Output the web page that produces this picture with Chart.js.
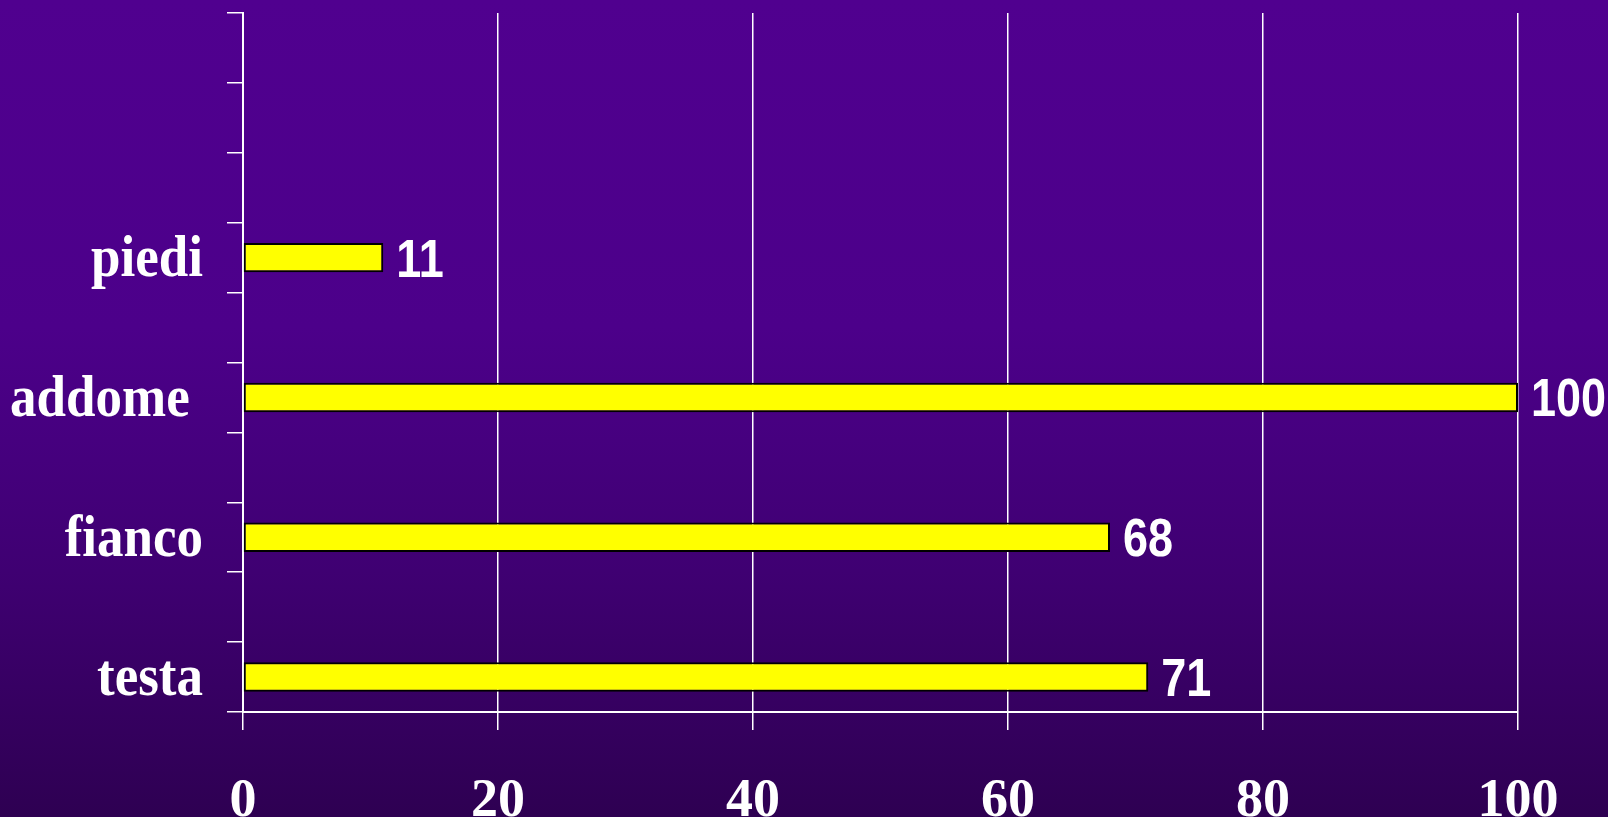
<!DOCTYPE html>
<html>
<head>
<meta charset="utf-8">
<script src="https://cdn.jsdelivr.net/npm/chart.js@4.4.0/dist/chart.umd.min.js"></script>
<style>
  html, body { margin: 0; padding: 0; }
  body {
    width: 1608px; height: 817px; overflow: hidden;
    background: linear-gradient(to bottom, #50008f 0%, #4c008a 40%, #3f0072 70%, #2e0052 100%);
  }
  #wrap { position: relative; width: 1608px; height: 817px; }
</style>
</head>
<body>
<div id="wrap"><canvas id="grafico" width="1608" height="817"></canvas></div>
<script>
// slots from top to bottom (blank slots keep the original spacing)
const categorie = ["", "", "", "piedi", "", "addome ", "", "fianco", "", "testa"];
const valori = [null, null, null, 11, null, 100, null, 68, null, 71];
const tickX = [0, 20, 40, 60, 80, 100];

// etichette dei valori e delle categorie, un po' allungate in verticale come nell'originale
const etichette = {
  id: "etichette",
  afterDatasetsDraw(chart) {
    const c = chart.ctx;
    const meta = chart.getDatasetMeta(0);
    c.save();
    c.fillStyle = "#ffffff";
    c.font = "bold 45px 'Liberation Sans', Arial, sans-serif";
    c.textAlign = "left";
    c.textBaseline = "middle";
    meta.data.forEach((bar, i) => {
      if (valori[i] == null) return;
      c.save();
      c.translate(bar.x + 13, bar.y + 4);
      c.scale(1, 1.2);
      c.fillText(String(valori[i]), 0, 0);
      c.restore();
    });

    const y = chart.scales.y;
    c.font = "bold 53px 'Liberation Serif', 'Times New Roman', serif";
    c.textAlign = "right";
    categorie.forEach((cat, i) => {
      if (!cat) return;
      c.save();
      c.translate(chart.chartArea.left - 40, y.getPixelForTick(i) + 3);
      c.scale(1, 1.12);
      c.fillText(cat, 0, 0);
      c.restore();
    });
    c.restore();
  },
};

new Chart("grafico", {
  type: "bar",
  data: {
    labels: categorie,
    datasets: [
      {
        data: valori,
        backgroundColor: "#ffff00",
        borderColor: "#000000",
        borderWidth: 2,
        borderSkipped: false,
        categoryPercentage: 1,
        barPercentage: 0.42,
      },
    ],
  },
  options: {
    indexAxis: "y",
    responsive: false,
    animation: false,
    devicePixelRatio: 1,
    layout: { padding: { top: 13, right: 90, left: 0, bottom: 0 } },
    plugins: { legend: { display: false }, tooltip: { enabled: false } },
    scales: {
      x: {
        min: 0,
        max: 100,
        afterBuildTicks: (s) => { s.ticks = tickX.map((v) => ({ value: v })); },
        afterFit: (s) => { s.height = 105; },
        border: { color: "#ffffff", width: 2 },
        grid: { color: "#ffffff", lineWidth: 1.5, tickLength: 18, drawTicks: true },
        ticks: {
          color: "#ffffff",
          padding: 40,
          font: { family: "'Liberation Serif', 'Times New Roman', serif", size: 54, weight: "bold" },
        },
      },
      y: {
        offset: true,
        afterFit: (s) => { s.width = 243; s.paddingTop = 0; s.paddingBottom = 0; },
        border: { color: "#ffffff", width: 2 },
        grid: { offset: true, drawOnChartArea: false, color: "#ffffff", lineWidth: 1.5, tickLength: 16 },
        ticks: {
          color: "rgba(0,0,0,0)",
          padding: 23,
          autoSkip: false,
          font: { family: "'Liberation Serif', 'Times New Roman', serif", size: 53, weight: "bold" },
        },
      },
    },
  },
  plugins: [etichette],
});
</script>
</body>
</html>
